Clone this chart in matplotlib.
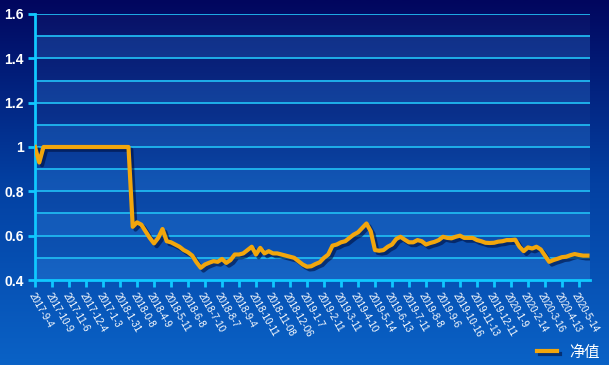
import numpy as np
import matplotlib
matplotlib.use("Agg")
import matplotlib.pyplot as plt
import matplotlib.patheffects as pe
from matplotlib.colors import LinearSegmentedColormap

plt.rcParams['font.family'] = ['Liberation Sans', 'Noto Sans CJK SC', 'DejaVu Sans']

# 净值 series (roughly weekly points)
nav = [1.0, 0.93, 1.0, 1.0, 1.0, 1.0, 1.0, 1.0, 1.0, 1.0,
       1.0, 1.0, 1.0, 1.0, 1.0, 1.0, 1.0, 1.0, 1.0, 1.0,
       1.0, 1.0, 1.0, 0.64, 0.66, 0.65, 0.62, 0.59, 0.565, 0.59,
       0.63, 0.575, 0.57, 0.56, 0.55, 0.535, 0.525, 0.51, 0.48, 0.455,
       0.47, 0.478, 0.485, 0.482, 0.495, 0.477, 0.49, 0.515, 0.515, 0.52,
       0.535, 0.55, 0.515, 0.545, 0.52, 0.53, 0.52, 0.52, 0.515, 0.51,
       0.505, 0.5, 0.485, 0.47, 0.46, 0.462, 0.472, 0.48, 0.5, 0.515,
       0.555, 0.56, 0.57, 0.575, 0.59, 0.605, 0.615, 0.635, 0.655, 0.62,
       0.535, 0.532, 0.535, 0.55, 0.56, 0.585, 0.595, 0.582, 0.57, 0.57,
       0.58, 0.575, 0.56, 0.567, 0.572, 0.58, 0.595, 0.59, 0.588, 0.595,
       0.6, 0.59, 0.59, 0.59, 0.58, 0.575, 0.568, 0.567, 0.568, 0.573,
       0.575, 0.58, 0.58, 0.582, 0.55, 0.53, 0.547, 0.542, 0.55, 0.538,
       0.51, 0.482, 0.49, 0.496, 0.503, 0.505, 0.512, 0.517, 0.513, 0.51,
       0.51]

tick_labels = ['2017-9-4', '2017-10-9', '2017-11-6', '2017-12-4', '2017-1-3',
               '2018-1-31', '2018-0-8', '2018-4-9', '2018-5-11', '2018-6-8',
               '2018-7-10', '2018-8-7', '2018-9-4', '2018-10-11', '2018-11-08',
               '2018-12-06', '2019-1-7', '2019-2-11', '2019-3-11', '2019-4-10',
               '2019-5-14', '2019-6-13', '2019-7-11', '2019-8-8', '2019-9-6',
               '2019-10-16', '2019-11-13', '2019-12-11', '2020-1-9', '2020-2-14',
               '2020-3-16', '2020-4-13', '2020-5-14']
tick_step = 4

fig = plt.figure(figsize=(6.09, 3.65), dpi=100)

# background gradient
bg = fig.add_axes([0, 0, 1, 1], zorder=-10)
grad = np.linspace(0, 1, 256).reshape(-1, 1)
cmap = LinearSegmentedColormap.from_list('bg', ['#01065e', '#0340a2', '#0a62c6'])
bg.imshow(grad, aspect='auto', cmap=cmap, extent=[0, 1, 0, 1], origin='upper')
bg.axis('off')

ax = fig.add_axes([35 / 609, 1 - 280 / 365, 555 / 609, 266 / 365])
ax.set_facecolor((1, 1, 1, 0.03))

# alternating bands
for k in range(6):
    lo = 0.4 + 0.2 * k
    ax.axhspan(lo, lo + 0.1, color='#3aa0ff', alpha=0.18, lw=0, zorder=0)
for v in np.arange(0.5, 1.61, 0.1):
    ax.axhline(v, color='#20b8f0', lw=1.3, zorder=1)

x = np.arange(len(nav))
ax.plot(x, nav, color='#f2a60c', lw=3.0, solid_joinstyle='round', zorder=3,
        path_effects=[pe.SimpleLineShadow(offset=(2, -2), shadow_color='#001040', alpha=0.6),
                      pe.Normal()], label='净值')

ax.set_ylim(0.4, 1.6)
ax.set_xlim(0, 130.6)
ax.set_yticks([0.4, 0.6, 0.8, 1.0, 1.2, 1.4, 1.6])
ax.set_yticklabels(['0.4', '0.6', '0.8', '1', '1.2', '1.4', '1.6'])
ax.set_xticks(np.arange(len(tick_labels)) * tick_step)
ax.set_xticklabels(tick_labels, rotation=-60, ha='left', va='top',
                   rotation_mode='anchor', fontsize=7, color='white')

for s in ['top', 'right']:
    ax.spines[s].set_visible(False)
for s in ['left', 'bottom']:
    ax.spines[s].set_color('#10c8ff')
    ax.spines[s].set_linewidth(2)
ax.tick_params(axis='both', colors='#10c8ff', width=2, length=5)
ax.tick_params(axis='y', labelcolor='white', labelsize=10, pad=3)
ax.tick_params(axis='x', labelcolor='white', pad=3)
for t in ax.get_yticklabels():
    t.set_fontweight('bold')

handles, labels = ax.get_legend_handles_labels()
leg = fig.legend(handles, labels, loc='center right',
                 bbox_to_anchor=(600 / 609, 1 - 352 / 365), frameon=False,
                 handlelength=1.3, fontsize=11, handletextpad=0.8,
                 borderpad=0, borderaxespad=0)
for t in leg.get_texts():
    t.set_color('white')
    t.set_family(['Noto Sans CJK SC', 'DejaVu Sans'])

fig.savefig('out.png', dpi=100)
